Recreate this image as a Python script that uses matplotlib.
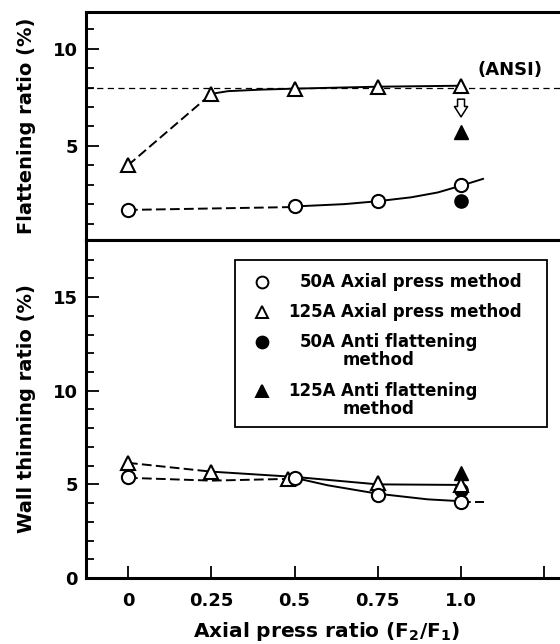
import matplotlib
matplotlib.use("Agg")
import matplotlib.pyplot as plt
from matplotlib.patches import Rectangle
from matplotlib.ticker import MultipleLocator

plt.rcParams['font.family'] = ['DejaVu Sans']
plt.rcParams['font.weight'] = 'bold'

# measured points
x_pts = [0, 0.25, 0.5, 0.75, 1.0]

# flattening ratio (%)
flat_50a_x = [0, 0.5, 0.75, 1.0]
flat_50a = [1.7, 1.9, 2.15, 3.0]
flat_125a = [4.0, 7.68, 7.95, 8.05, 8.1]
flat_50a_anti = 2.15
flat_125a_anti = 5.7
ansi_limit = 8.0

# wall thinning ratio (%)
thin_50a = [5.4, None, 5.35, 4.45, 4.05]
thin_125a_x = [0, 0.25, 0.48, 0.75, 1.0]
thin_125a = [6.15, 5.68, 5.3, 5.08, 4.97]
thin_50a_anti = 4.7
thin_125a_anti = 5.6

# hand drawn guide curves
flat_125a_dash_x = [0, 0.25]
flat_125a_dash_y = [4.0, 7.68]
flat_125a_solid_x = [0.25, 0.3, 0.4, 0.5, 0.75, 1.0]
flat_125a_solid_y = [7.68, 7.82, 7.9, 7.95, 8.05, 8.1]
flat_50a_dash_x = [0, 0.5]
flat_50a_dash_y = [1.7, 1.85]
flat_50a_solid_x = [0.5, 0.65, 0.75, 0.85, 0.93, 1.0, 1.066]
flat_50a_solid_y = [1.88, 2.0, 2.15, 2.35, 2.6, 2.95, 3.3]

thin_125a_dash_x = [0, 0.25]
thin_125a_dash_y = [6.15, 5.68]
thin_125a_solid_x = [0.25, 0.5, 0.75, 1.0]
thin_125a_solid_y = [5.68, 5.4, 5.0, 4.97]
thin_50a_dash_x = [0, 0.25, 0.5]
thin_50a_dash_y = [5.35, 5.2, 5.3]
thin_50a_solid_x = [0.5, 0.6, 0.75, 0.9, 1.0]
thin_50a_solid_y = [5.35, 4.95, 4.5, 4.2, 4.1]
thin_50a_tail_x = [1.0, 1.07]
thin_50a_tail_y = [4.08, 4.08]

xticks = [0, 0.25, 0.5, 0.75, 1.0, 1.25]
xticklabels = ['0', '0.25', '0.5', '0.75', '1.0', '']

fig = plt.figure(figsize=(5.6, 6.44), dpi=100)
ax1 = fig.add_axes([0.1536, 0.6273, 0.86, 0.3541])
ax2 = fig.add_axes([0.1536, 0.1025, 0.86, 0.5248])

lw = 1.4
ms = 9.5
dash = (0, (5, 2.2))

for ax in (ax1, ax2):
    ax.set_xlim(-0.126, 1.32)
    for s in ax.spines.values():
        s.set_linewidth(2.2)
    ax.spines['right'].set_visible(False)
    ax.tick_params(direction='in', which='both', width=1.3, labelsize=13)
    ax.tick_params(which='major', length=9)
    ax.tick_params(which='minor', length=5.5)
    ax.tick_params(axis='y', pad=6)
    ax.yaxis.set_minor_locator(MultipleLocator(1))

# ---- upper panel
ax1.set_ylim(0.15, 11.9)
ax1.set_yticks([5, 10])
ax1.set_xticks([])
ax1.axhline(ansi_limit, color='black', lw=0.9, ls=(0, (5, 3.5)))
ax1.text(1.048, 8.9, '(ANSI)', fontsize=13, fontweight='bold', va='center')

ax1.plot(flat_125a_dash_x, flat_125a_dash_y, color='black', lw=lw, ls=dash)
ax1.plot(flat_125a_solid_x, flat_125a_solid_y, color='black', lw=lw)
ax1.plot(flat_50a_dash_x, flat_50a_dash_y, color='black', lw=lw, ls=dash)
ax1.plot(flat_50a_solid_x, flat_50a_solid_y, color='black', lw=lw)

ax1.plot(flat_50a_x, flat_50a, 'o', ms=ms, mfc='white', mec='black', mew=1.5, ls='none', zorder=5)
ax1.plot(x_pts, flat_125a, '^', ms=ms + 1, mfc='white', mec='black', mew=1.5, ls='none', zorder=5)
ax1.plot([1.0], [flat_50a_anti], 'o', ms=ms, color='black', zorder=5)
ax1.plot([1.0], [flat_125a_anti], '^', ms=ms, color='black', zorder=5)
ax1.annotate('', xy=(1.0, 6.35), xytext=(1.0, 7.55),
             arrowprops=dict(arrowstyle='simple,head_width=0.95,head_length=0.75,tail_width=0.5',
                             fc='white', ec='black', lw=1.1))
ax1.set_ylabel('Flattening ratio (%)', fontsize=14, fontweight='bold', labelpad=12)

# ---- lower panel
ax2.set_ylim(0, 18.05)
ax2.set_yticks([0, 5, 10, 15])
ax2.set_xticks(xticks)
ax2.set_xticklabels(xticklabels)
ax2.tick_params(axis='x', pad=10)

ax2.plot(thin_125a_dash_x, thin_125a_dash_y, color='black', lw=lw, ls=dash)
ax2.plot(thin_125a_solid_x, thin_125a_solid_y, color='black', lw=lw)
ax2.plot(thin_50a_dash_x, thin_50a_dash_y, color='black', lw=lw, ls=dash)
ax2.plot(thin_50a_solid_x, thin_50a_solid_y, color='black', lw=lw)
ax2.plot(thin_50a_tail_x, thin_50a_tail_y, color='black', lw=lw, ls=dash)

xs = [x for x, y in zip(x_pts, thin_50a) if y is not None]
ys = [y for y in thin_50a if y is not None]
ax2.plot([1.0], [thin_125a_anti], '^', ms=ms, color='black', zorder=4)
ax2.plot([1.0], [thin_50a_anti], 'o', ms=ms, color='black', zorder=4)
ax2.plot(thin_125a_x, thin_125a, '^', ms=ms + 1, mfc='white', mec='black', mew=1.5, ls='none', zorder=5)
ax2.plot(xs, ys, 'o', ms=ms, mfc='white', mec='black', mew=1.5, ls='none', zorder=6)

ax2.set_ylabel('Wall thinning ratio (%)', fontsize=14, fontweight='bold', labelpad=12)
ax2.set_xlabel('Axial press ratio (F$_\\mathbf{2}$/F$_\\mathbf{1}$)', fontsize=14.5,
               fontweight='bold', labelpad=7)

# ---- legend (drawn in axes coordinates)
ax2.add_patch(Rectangle((0.3094, 0.4467), 0.648, 0.4941, transform=ax2.transAxes,
                        fill=False, ec='black', lw=1.3, zorder=7))
legend_rows = [
    ('o', 'white', '50A', 'Axial press method', ''),
    ('^', 'white', '125A', 'Axial press method', ''),
    ('o', 'black', '50A', 'Anti flattening', 'method'),
    ('^', 'black', '125A', 'Anti flattening', 'method'),
]
row_y = [0.8757, 0.7870, 0.6980, 0.5530]
mx = 0.3654
for (mk, fc, size, txt, txt2), yy in zip(legend_rows, row_y):
    ax2.plot([mx], [yy], mk, ms=ms - 1, mfc=fc, mec='black', mew=1.4,
             transform=ax2.transAxes, clip_on=False, zorder=8)
    ax2.text(0.519, yy, size, transform=ax2.transAxes, ha='right', va='center',
             fontsize=12, fontweight='bold', zorder=8)
    ax2.text(0.5295, yy, txt, transform=ax2.transAxes, ha='left', va='center',
             fontsize=12, fontweight='bold', zorder=8)
    if txt2:
        ax2.text(0.5336, yy - 0.052, txt2, transform=ax2.transAxes, ha='left', va='center',
                 fontsize=12, fontweight='bold', zorder=8)

fig.savefig('out.png', dpi=100)
